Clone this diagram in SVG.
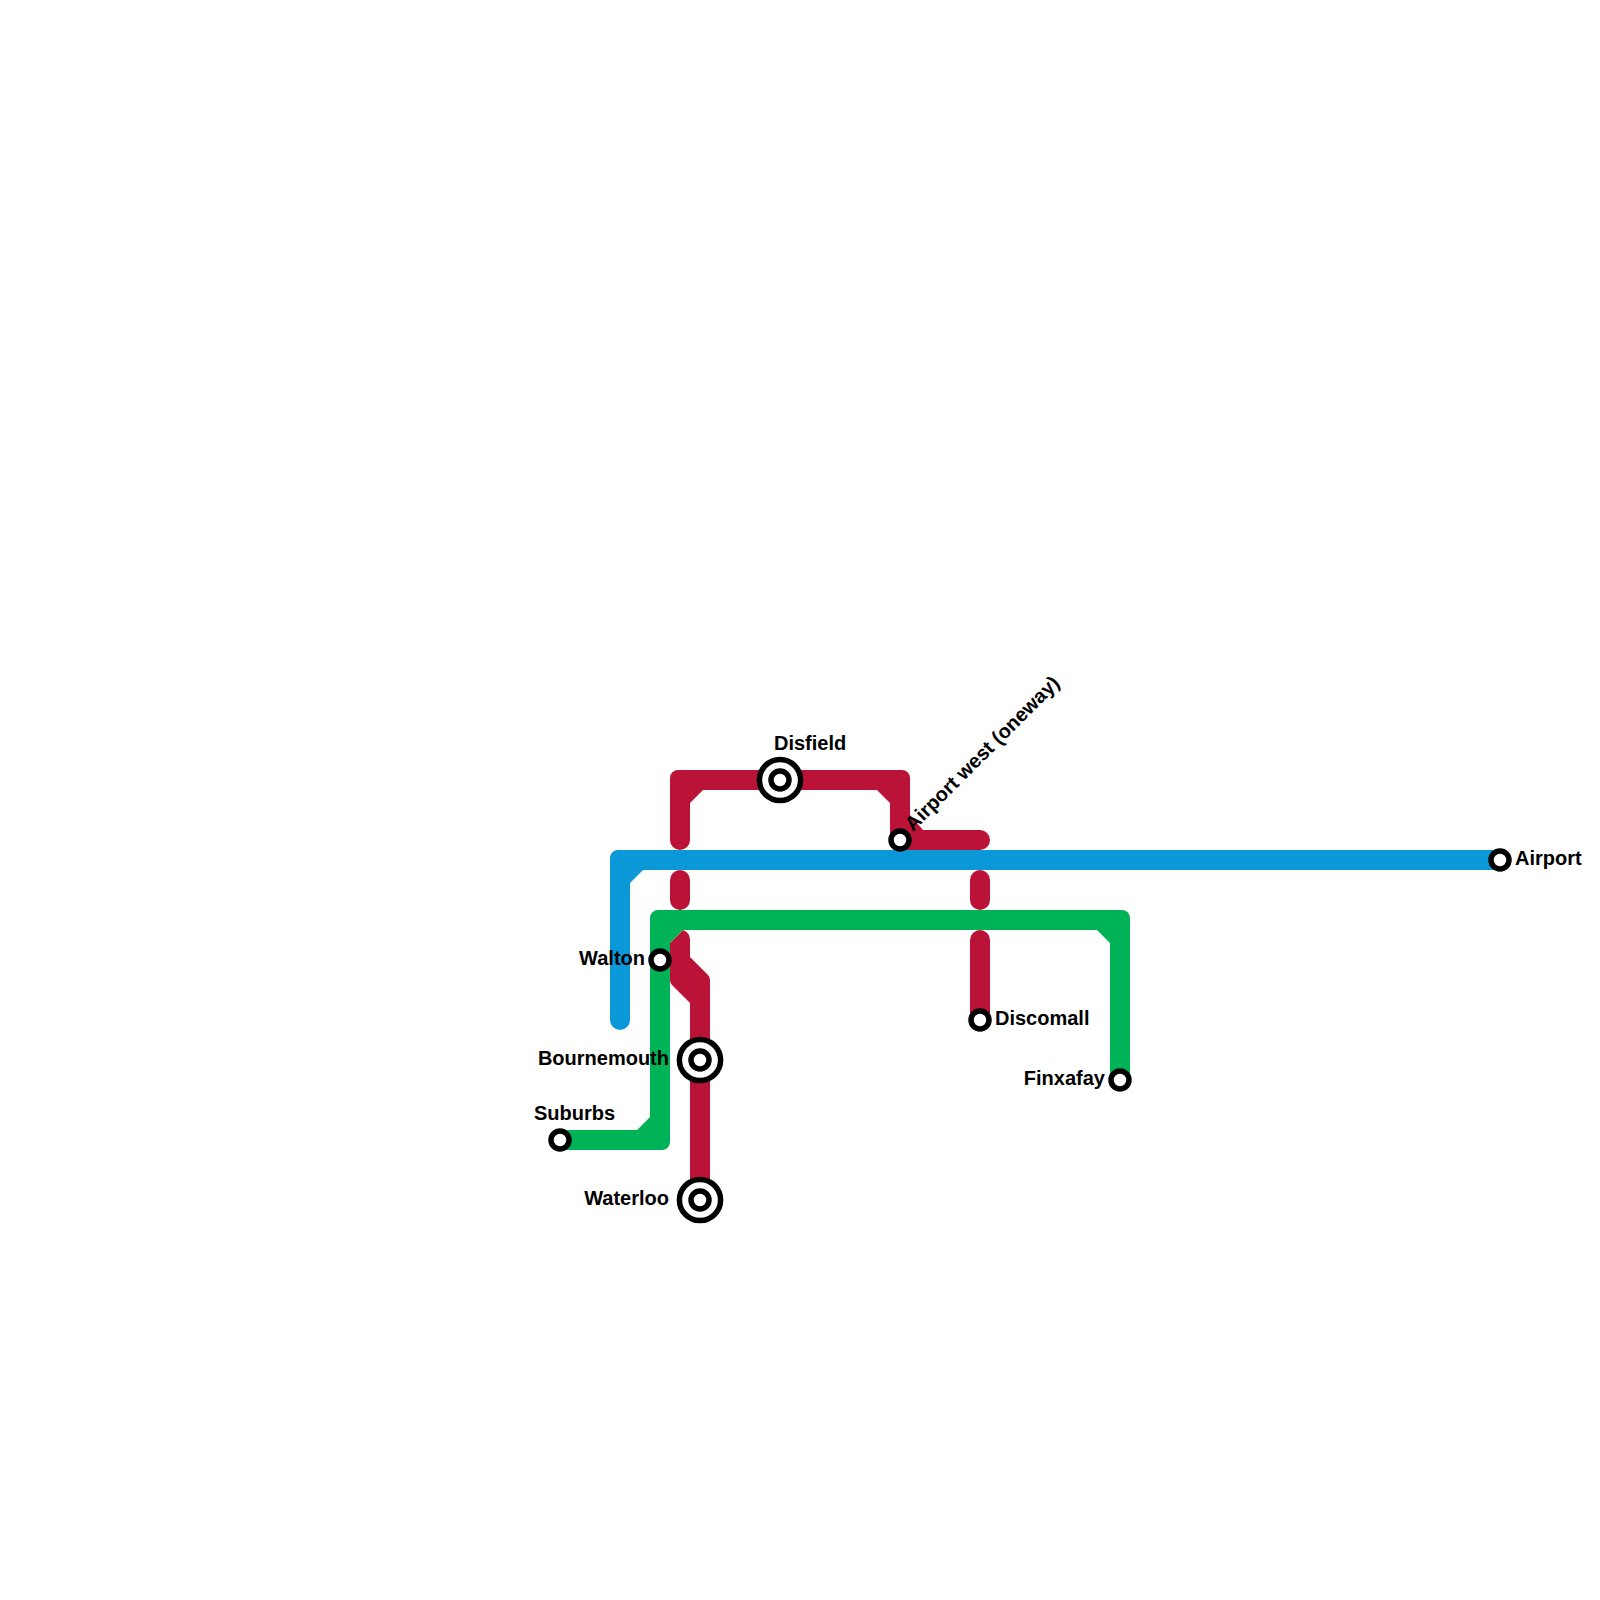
<svg xmlns="http://www.w3.org/2000/svg" width="1600" height="1600" viewBox="0 0 1600 1600">
<style>
.red{fill:#bb1238}.blue{fill:#0a98d8}.green{fill:#00b356}
.ring{fill:#fff;stroke:#000;stroke-width:5.5}
text{font-family:"Liberation Sans",Arial,sans-serif;font-weight:700;font-size:20px;fill:#000}
.e{text-anchor:end}
</style>
<rect width="1600" height="1600" fill="#fff"/>
<g id="connectors">
<g id="line-red">
<path class="red" d="M670 840V778A8 8 0 0 1 678 770H902A8 8 0 0 1 910 778V815L923 830H980A10 10 0 0 1 980 850H900L890 840V803L877 790H703L690 803V840A10 10 0 0 1 670 840Z"/>
<path class="red" d="M670 880A10 10 0 0 1 690 880V900A10 10 0 0 1 670 900Z"/>
<path class="red" d="M970 880A10 10 0 0 1 990 880V900A10 10 0 0 1 970 900Z"/>
<path class="red" d="M670 943L683 930A10 10 0 0 1 690 940V957L708 975Q710 977 710 980V1200H690V1003L672 985Q670 983 670 980Z"/>
<path class="red" d="M970 940A10 10 0 0 1 990 940V1020H970Z"/>
</g>
<path id="line-blue" class="blue" d="M610 1020V858A8 8 0 0 1 618 850H1500V870H643L630 883V1020A10 10 0 0 1 610 1020Z"/>
<path id="line-green" class="green" d="M650 918A8 8 0 0 1 658 910H1122A8 8 0 0 1 1130 918V1080H1110V943L1097 930H683L670 943V1142A8 8 0 0 1 662 1150H560V1130H637L650 1117Z"/>
</g>
<g id="airport"><circle class="ring" cx="1500" cy="860" r="9"/><text x="1515" y="865">Airport</text></g>
<g id="airport-west"><circle class="ring" cx="900" cy="840" r="9"/><text transform="translate(913 832) rotate(-45)">Airport west (oneway)</text></g>
<g id="disfield"><circle class="ring" cx="780" cy="780" r="20.6"/><circle class="ring" cx="780" cy="780" r="9"/><text x="774" y="750">Disfield</text></g>
<g id="discomall"><circle class="ring" cx="980" cy="1020" r="9"/><text x="995" y="1025">Discomall</text></g>
<g id="finxafay"><circle class="ring" cx="1120" cy="1080" r="9"/><text class="e" x="1105" y="1085">Finxafay</text></g>
<g id="walton"><circle class="ring" cx="660" cy="960" r="9"/><text class="e" x="645" y="965">Walton</text></g>
<g id="bournemouth"><circle class="ring" cx="700" cy="1060" r="20.6"/><circle class="ring" cx="700" cy="1060" r="9"/><text class="e" x="669" y="1065">Bournemouth</text></g>
<g id="waterloo"><circle class="ring" cx="700" cy="1200" r="20.6"/><circle class="ring" cx="700" cy="1200" r="9"/><text class="e" x="669" y="1205">Waterloo</text></g>
<g id="suburbs"><circle class="ring" cx="560" cy="1140" r="9"/><text x="534" y="1120">Suburbs</text></g>
</svg>
